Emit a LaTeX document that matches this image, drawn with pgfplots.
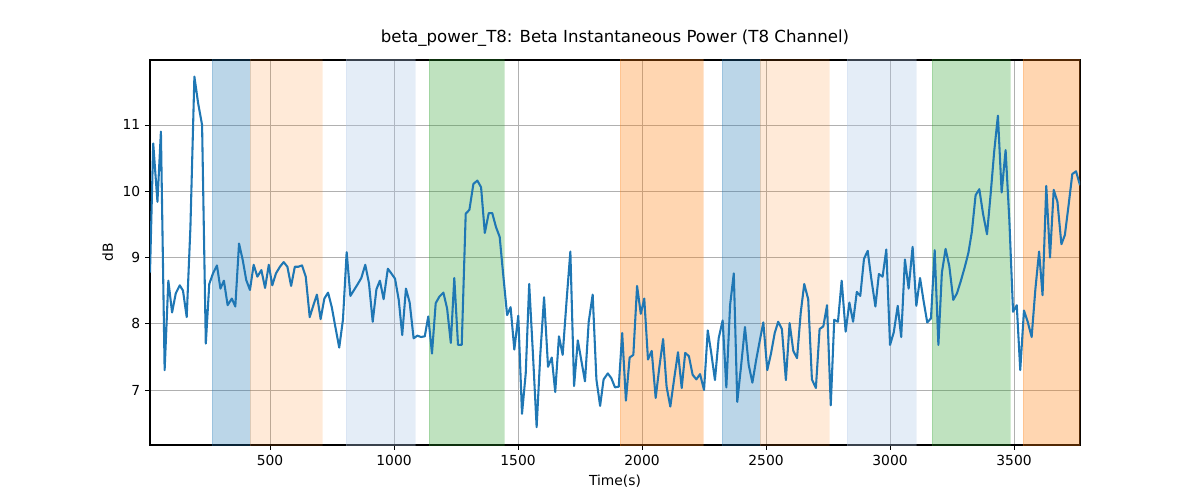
\documentclass[border=0pt]{standalone}
\usepackage{pgfplots}
\pgfplotsset{compat=1.18}
\usepackage{fontspec}
\setmainfont{DejaVu Sans}
\definecolor{c0}{HTML}{1F77B4}
\definecolor{c1}{HTML}{FF7F0E}
\definecolor{c2}{HTML}{2CA02C}
\definecolor{lb}{HTML}{AEC7E8}
\definecolor{gr}{HTML}{B0B0B0}
\begin{document}
\begin{tikzpicture}
\begin{axis}[
  scale only axis, width=9.3in, height=3.85in,
  xmin=16, xmax=3766, ymin=6.17, ymax=11.98,
  xtick={500,1000,1500,2000,2500,3000,3500},
  ytick={7,8,9,10,11},
  xtick pos=bottom, ytick pos=left,
  grid=major, grid style={color=gr, line width=0.6pt},
  tick align=outside, tick style={black, line width=0.6pt},
  major tick length=3.5pt,
  /pgf/number format/assume math mode=true,
  /pgf/number format/1000 sep={},
  ticklabel style={font=\fontsize{10}{12}\selectfont},
  xlabel={Time(s)}, ylabel={dB},
  label style={font=\fontsize{10}{12}\selectfont},
  title={beta\_power\_T8: Beta Instantaneous Power (T8 Channel)},
  title style={font=\fontsize{12}{14}\selectfont},
  axis line style={line width=0.8pt},
  clip=true,
]
\path[fill=c0, fill opacity=0.3, draw=c0, draw opacity=0.2] (axis cs:266,5) rectangle (axis cs:419,13);
\path[fill=c1, fill opacity=0.16, draw=c1, draw opacity=0.1] (axis cs:419,5) rectangle (axis cs:710,13);
\path[fill=lb, fill opacity=0.33, draw=lb, draw opacity=0.2] (axis cs:806,5) rectangle (axis cs:1085,13);
\path[fill=c2, fill opacity=0.3, draw=c2, draw opacity=0.2] (axis cs:1141,5) rectangle (axis cs:1444,13);
\path[fill=c1, fill opacity=0.32, draw=c1, draw opacity=0.2] (axis cs:1911,5) rectangle (axis cs:2246,13);
\path[fill=c0, fill opacity=0.3, draw=c0, draw opacity=0.2] (axis cs:2323,5) rectangle (axis cs:2476,13);
\path[fill=c1, fill opacity=0.16, draw=c1, draw opacity=0.1] (axis cs:2476,5) rectangle (axis cs:2754,13);
\path[fill=lb, fill opacity=0.33, draw=lb, draw opacity=0.2] (axis cs:2827,5) rectangle (axis cs:3105,13);
\path[fill=c2, fill opacity=0.3, draw=c2, draw opacity=0.2] (axis cs:3169,5) rectangle (axis cs:3484,13);
\path[fill=c1, fill opacity=0.32, draw=c1, draw opacity=0.2] (axis cs:3536,5) rectangle (axis cs:3800,13);
\addplot[c0, line width=1.5pt, line join=round] coordinates {
(16,8.77)(29,10.72)(46,9.84)(60,10.90)(75,7.30)(90,8.65)(105,8.17)(120,8.46)(136,8.58)(149,8.50)
(164,8.10)(179,9.46)(195,11.73)(210,11.33)(226,11.0)(241,7.70)(255,8.60)(270,8.76)(286,8.88)(300,8.53)
(314,8.65)(329,8.28)(346,8.38)(360,8.26)(375,9.21)(390,8.96)(404,8.66)(419,8.51)(434,8.89)(449,8.71)
(465,8.81)(480,8.54)(495,8.89)(509,8.58)(524,8.76)(540,8.86)(555,8.93)(570,8.86)(585,8.57)(600,8.86)
(614,8.86)(629,8.88)(644,8.71)(660,8.10)(675,8.28)(689,8.44)(704,8.07)(719,8.38)(734,8.47)(749,8.25)
(763,7.96)(779,7.64)(794,8.06)(809,9.08)(824,8.42)(839,8.51)(854,8.60)(868,8.69)(884,8.89)(899,8.61)
(914,8.03)(929,8.52)(943,8.65)(958,8.37)(975,8.83)(989,8.76)(1004,8.68)(1019,8.36)(1033,7.83)(1048,8.53)
(1063,8.32)(1079,7.78)(1094,7.82)(1109,7.80)(1124,7.81)(1138,8.11)(1153,7.55)(1168,8.31)(1183,8.41)(1199,8.47)
(1214,8.23)(1229,7.71)(1243,8.69)(1258,7.68)(1273,7.68)(1289,9.66)(1304,9.72)
(1320,10.11)(1336,10.16)(1351,10.06)(1366,9.37)(1382,9.67)(1396,9.67)(1411,9.46)(1426,9.31)(1441,8.71)(1456,8.13)
(1470,8.25)(1485,7.61)(1501,8.12)(1516,6.64)(1531,7.25)(1545,8.60)(1560,7.55)(1575,6.44)(1590,7.55)(1605,8.40)
(1621,7.35)(1636,7.49)(1650,6.97)(1665,7.81)(1680,7.53)(1696,8.36)(1711,9.09)(1726,7.06)(1741,7.75)(1755,7.45)
(1770,7.13)(1785,8.03)(1801,8.44)(1816,7.16)(1831,6.76)(1845,7.16)(1862,7.25)(1876,7.18)(1891,7.04)(1906,7.05)
(1920,7.86)(1935,6.84)(1950,7.49)(1965,7.53)(1980,8.57)(1995,8.15)(2009,8.38)(2024,7.46)(2039,7.59)(2055,6.88)
(2070,7.35)(2085,7.77)(2099,7.05)(2114,6.75)(2130,7.18)(2145,7.57)(2160,7.03)(2174,7.56)(2189,7.51)(2204,7.23)
(2219,7.16)(2234,7.24)(2250,7.00)(2265,7.90)(2279,7.56)(2294,7.15)(2309,7.78)(2325,8.05)(2340,7.04)(2355,8.28)
(2370,8.76)(2384,6.82)(2399,7.35)(2415,7.95)(2430,7.38)(2445,7.11)(2460,7.45)(2474,7.73)(2489,8.02)(2505,7.30)
(2520,7.55)(2535,7.86)(2549,8.03)
(2564,7.92)(2580,7.15)(2595,8.01)(2610,7.59)(2625,7.48)(2640,8.17)(2654,8.60)(2670,8.37)(2685,7.16)(2701,7.03)
(2716,7.92)(2731,7.96)(2746,8.28)(2761,6.77)(2775,8.06)(2790,8.03)(2805,8.65)(2821,7.88)(2836,8.32)(2851,8.03)
(2866,8.48)(2880,8.42)(2895,8.98)(2910,9.10)(2924,8.69)(2941,8.26)(2955,8.75)(2970,8.71)(2985,9.12)(3000,7.68)
(3015,7.87)(3031,8.27)(3045,7.80)(3060,8.97)(3075,8.53)(3091,9.16)(3106,8.27)(3121,8.69)(3135,8.35)(3150,8.02)
(3165,8.08)(3180,9.11)(3195,7.68)(3209,8.77)(3224,9.13)(3239,8.87)(3255,8.36)(3270,8.46)(3285,8.64)(3301,8.85)
(3316,9.07)(3330,9.39)(3345,9.94)(3360,10.03)(3375,9.66)(3391,9.35)(3406,9.97)(3420,10.60)(3435,11.14)(3450,9.98)
(3466,10.62)(3481,9.57)(3496,8.18)(3511,8.28)(3525,7.30)(3540,8.20)(3555,8.03)(3571,7.80)(3586,8.52)(3601,9.09)
(3615,8.43)(3630,10.08)(3645,9.00)(3660,10.02)(3675,9.84)(3691,9.20)(3705,9.34)(3720,9.79)(3735,10.26)(3750,10.30)
(3766,10.09)
};
\end{axis}
\useasboundingbox (current axis.south west) ++(-1.5in,-0.55in) rectangle ([xshift=1.2in,yshift=0.6in]current axis.north east);
\end{tikzpicture}
\end{document}
